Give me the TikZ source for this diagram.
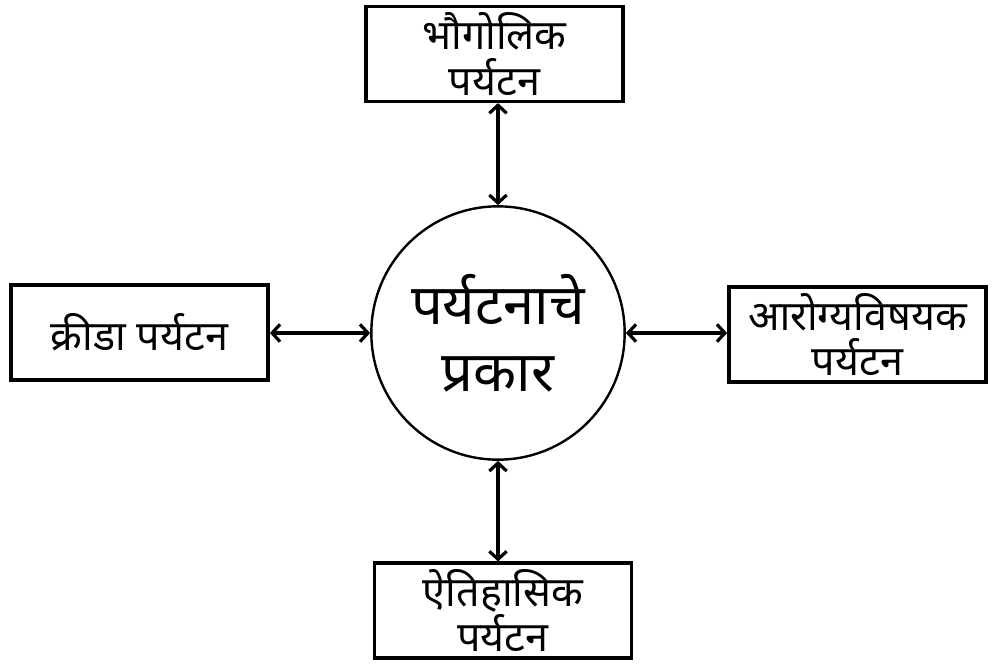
\documentclass[tikz,border=0pt]{standalone}
\usepackage{fontspec}
\newfontfamily\devfont[Script=Devanagari]{Noto Sans}
\usepackage{tikz}
\usetikzlibrary{arrows.meta}

\tikzset{
  typebox/.style={draw, line width=2.6pt, minimum width=193pt, minimum height=71pt,
    inner sep=0pt, align=center, font=\devfont\fontsize{31}{34}\selectfont},
  mainring/.style={draw, circle, line width=1.8pt, minimum size=190pt, inner sep=0pt,
    align=center, font=\devfont\fontsize{42}{50}\selectfont},
  link/.style={line width=2.4pt, {Straight Barb[length=6pt,width=13pt]}-{Straight Barb[length=6pt,width=13pt]}}
}

\begin{document}
\begin{tikzpicture}[x=0.75pt,y=-0.75pt]
\useasboundingbox (0,0) rectangle (996,669);
% centre
\node [mainring] (prakar) at (498,333) {पर्यटनाचे\\प्रकार};
% boxes
\node [typebox] (bhugol) at (494.5,54) {भौगोलिक\\पर्यटन};
\node [typebox] (krida) at (139.5,332.5) {क्रीडा पर्यटन};
\node [typebox] (arogya) at (857.5,334.5) {आरोग्यविषयक\\पर्यटन};
\node [typebox] (itihas) at (503,610.5) {ऐतिहासिक\\पर्यटन};
% arrows
\draw [link] (prakar.north) -- (prakar.north |- bhugol.south);
\draw [link] (krida.east |- prakar.west) -- (prakar.west);
\draw [link] (prakar.east) -- (arogya.west |- prakar.east);
\draw [link] (prakar.south) -- (prakar.south |- itihas.north);
\end{tikzpicture}
\end{document}
